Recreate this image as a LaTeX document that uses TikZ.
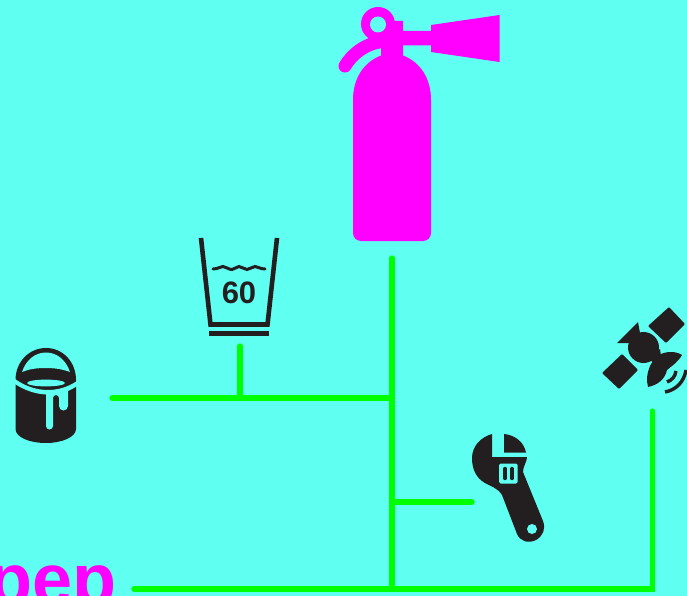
\documentclass[tikz,border=0pt]{standalone}
\usepackage{fontspec}
\setmainfont{Liberation Sans}
\definecolor{bgc}{HTML}{5FFFF1}
\definecolor{pk}{HTML}{FF00FF}
\definecolor{gr}{HTML}{00FF00}
\definecolor{dk}{HTML}{231F20}
\begin{document}
\begin{tikzpicture}[x=1pt,y=-1pt,
  link/.style={draw=gr,line width=5.2pt,line cap=round},
  ink/.style={fill=dk,draw=none},
  cutout/.style={fill=bgc,draw=none},
  pinkfill/.style={fill=pk,draw=none}]
\path[use as bounding box] (0,0) rectangle (687,596);
\clip (0,0) rectangle (687,596);
\fill[bgc] (0,0) rectangle (687,596);
% extinguisher
\fill[pinkfill] (353,100) .. controls (353,78) and (364,62) .. (381,55.5) -- (381,30) -- (395,21) -- (403,21) -- (403,31) -- (431,31) -- (431,25) -- (499.5,15) -- (499.5,62) -- (431,52) -- (431,45.5) -- (403,45.5) -- (403,55.5) .. controls (420,62) and (431,78) .. (431,100) -- (431,233) arc[start angle=0,end angle=90,radius=8] -- (361,241) arc[start angle=90,end angle=180,radius=8] -- cycle;
\fill[pinkfill] (378,24) circle[radius=17];
\draw[pk,line width=13pt,line cap=round] (345,66) .. controls (352,54) and (366,43) .. (383,41.5);
\fill[cutout] (378,24.5) circle[radius=8];
% connectors
\coordinate (extBase) at (392,258);
\coordinate (jA) at (392,398);
\coordinate (jB) at (392,502);
\coordinate (jC) at (392,589);
\coordinate (paintEnd) at (112,398);
\coordinate (cupEnd) at (240,346);
\coordinate (cupJ) at (240,398);
\coordinate (toolEnd) at (472,502);
\coordinate (textEnd) at (134,589);
\coordinate (corner) at (652.5,589);
\coordinate (satEnd) at (652.5,411);
\draw[link] (extBase) -- (jC);
\draw[link] (paintEnd) -- (jA);
\draw[link] (cupEnd) -- (cupJ);
\draw[link] (jB) -- (toolEnd);
\draw[link] (textEnd) -- (corner) -- (satEnd);
% wash tub
\draw[dk,line width=4.6pt,miter limit=10] (201,238) -- (210.5,324.5) -- (267.5,324.5) -- (277,238);
\fill[dk] (209,331) rectangle (269,335.5);
\draw[dk,line width=3pt,line cap=round] (213,269) .. controls (218,269) and (220,266.5) .. (223,266.5) .. controls (226,266.5) and (228,269.5) .. (232,269.5) .. controls (235,269.5) and (236,266.5) .. (239,266.5) .. controls (242,266.5) and (244,269.5) .. (247,269.5) .. controls (250,269.5) and (252,266.5) .. (255,266.5) .. controls (258,266.5) and (260,269) .. (265,269);
\node[text=dk,inner sep=0pt,font=\fontsize{31}{31}\selectfont\bfseries] (sixty) at (239,293) {60};
% paint bucket
\fill[ink] (15.5,380) .. controls (15.5,362) and (29,348) .. (46,348) .. controls (63,348) and (76,362) .. (76,380) -- (76,429) .. controls (76,437) and (62,443) .. (46,443) .. controls (29,443) and (15.5,437) .. (15.5,429) -- cycle;
\fill[cutout] (22,372) .. controls (26,360) and (35,352.5) .. (46,352.5) .. controls (57,352.5) and (66,360) .. (70,372) .. controls (62,369) and (54,368) .. (46,368) .. controls (37,368) and (29,369) .. (22,372) -- cycle;
\fill[cutout] (46,383) ellipse[x radius=19,y radius=3.4];
\fill[cutout] (15,379) .. controls (25,386) and (36,390) .. (48,390) .. controls (58,390) and (68,387) .. (77,381) -- (77,386) .. controls (74,388) and (71,390) .. (68,391) -- (68,406) arc[start angle=0,end angle=180,radius=4.5] -- (59,398) arc[start angle=0,end angle=180,x radius=3,y radius=-3] -- (53,426) arc[start angle=0,end angle=180,radius=3.5] -- (46,394.5) .. controls (35,394) and (24,390) .. (15,384) -- cycle;
% wrench
\fill[ink] (492,434) -- (492,457) -- (527,457) .. controls (527,462) and (523,466) .. (523,472) -- (543,521) .. controls (546,529) and (543,536) .. (536,540) .. controls (528,544) and (520,541) .. (517,534) -- (502,495) .. controls (498,488) and (490,486) .. (485,483) .. controls (476,478) and (472,469) .. (472,458) .. controls (472,446) and (481,437) .. (492,434) -- cycle;
\fill[ink] (504,434) .. controls (515,435) and (524,442) .. (526,452.5) -- (504,452.5) -- cycle;
\fill[cutout,rounded corners=1.5pt] (499,463.5) rectangle (517.5,483.5);
\draw[dk,line width=3.4pt,line cap=round] (505,468.5) -- (505,478.5) (512,468.5) -- (512,478.5);
\fill[cutout] (532,529) circle[radius=5];
% satellite
\fill[ink,rounded corners=1pt] (669,307) -- (685,324) -- (666,343) -- (648,326) -- cycle;
\fill[ink,rounded corners=1pt] (622,354) -- (638,370) -- (619,389) -- (602,373) -- cycle;
\fill[ink] (638,322) -- (617,343) -- (629,343) -- (645,340) -- (640,333) -- cycle;
\fill[ink] (643.5,347.5) circle[radius=15.5];
\fill[ink] (650,358) -- (660,349) -- (661,356) -- (655,368) -- cycle;
\fill[ink] (659,355) .. controls (666,351) and (676,351) .. (682,355) .. controls (678,362) and (673,365) .. (667,370) .. controls (665,379) and (658,385) .. (648,387) .. controls (646,380) and (647,372) .. (651,364) -- cycle;
\draw[dk,line width=3.4pt] (667,382) .. controls (672,380) and (675,377) .. (676,371);
\draw[dk,line width=3.4pt] (665,392) .. controls (676,390) and (684,382) .. (686,370);
% clipped text
\node[anchor=base east,text=pk,inner sep=0pt,font=\fontsize{72}{72}\selectfont\bfseries] (pep) at (117,604) {pep};
\end{tikzpicture}
\end{document}
